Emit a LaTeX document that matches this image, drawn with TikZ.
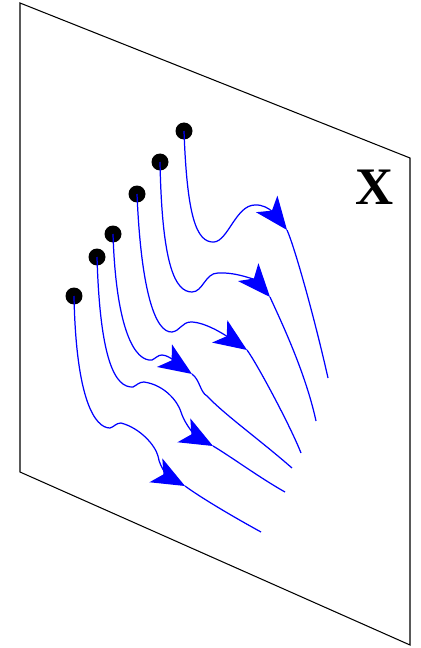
\documentclass[tikz,border=0pt]{standalone}
\usepackage{fontspec}
\usepackage{xcolor}
\usepackage{tikz}
\usetikzlibrary{arrows.meta, positioning}
\newfontfamily\labelfont{Liberation Serif}
\definecolor{flowblue}{RGB}{0,0,255}
\tikzstyle{startdot} = [circle, fill=black, draw=none, minimum size=0.34cm, inner sep=0pt]
\tikzstyle{flowline} = [draw=flowblue, line width=0.7pt]
\tikzstyle{flowarrow} = [flowline, -{Stealth[length=6.6mm, width=5.4mm, inset=1.7mm]}]
\tikzstyle{planeedge} = [draw=black, line width=0.6pt]

\begin{document}
\begin{tikzpicture}[x=0.02cm, y=0.02cm]
\useasboundingbox (0,0) rectangle (420,-648);

% ===== PLANE =====
\draw [planeedge] (20,-3) -- (410,-158) -- (410,-645) -- (20,-472) -- cycle;
\node (xlabel) [font=\labelfont\fontsize{30}{32}\selectfont\bfseries] at (375,-187) {X};

% ===== START POINTS =====
\node (d1) [startdot] at (184,-131) {};
\node (d2) [startdot] at (160,-162) {};
\node (d3) [startdot] at (137,-194) {};
\node (d4) [startdot] at (113,-234) {};
\node (d5) [startdot] at (97,-257) {};
\node (d6) [startdot] at (74,-296) {};

% arrow tips and free ends
\coordinate (t1) at (287,-230);  \coordinate (e1) at (328,-378);
\coordinate (t2) at (270,-297);  \coordinate (e2) at (316,-421);
\coordinate (t3) at (247,-350);  \coordinate (e3) at (301,-453);
\coordinate (t4) at (192,-374);  \coordinate (e4) at (292,-468);
\coordinate (t5) at (213,-446);  \coordinate (e5) at (285,-492);
\coordinate (t6) at (185,-486);  \coordinate (e6) at (261,-532);

% ===== FLOW LINES =====
% line 1
\draw [flowarrow] (d1.center) .. controls (187,-215) and (196,-243) .. (214,-242)
  .. controls (228,-241) and (236,-205) .. (255,-205)
  .. controls (270,-204) and (280,-221) .. (t1);
\draw [flowline] (t1) .. controls (295,-248) and (315,-320) .. (e1);

% line 2
\draw [flowarrow] (d2.center) .. controls (162,-265) and (175,-292) .. (192,-292)
  .. controls (203,-292) and (205,-273) .. (218,-273)
  .. controls (238,-272) and (256,-281) .. (t2);
\draw [flowline] (t2) .. controls (278,-315) and (305,-370) .. (e2);

% line 3
\draw [flowarrow] (d3.center) .. controls (141,-290) and (155,-333) .. (172,-332)
  .. controls (180,-331) and (182,-322) .. (191,-322)
  .. controls (205,-322) and (225,-335) .. (t3);
\draw [flowline] (t3) .. controls (256,-362) and (290,-425) .. (e3);

% line 4
\draw [flowarrow] (d4.center) .. controls (116,-330) and (135,-362) .. (152,-360)
  .. controls (156,-358) and (158,-355) .. (162,-355)
  .. controls (170,-355) and (183,-368) .. (t4);
\draw [flowline] (t4) .. controls (200,-380) and (200,-392) .. (207,-396)
  .. controls (225,-415) and (260,-440) .. (e4);

% line 5
\draw [flowarrow] (d5.center) .. controls (100,-360) and (115,-388) .. (133,-387)
  .. controls (137,-385) and (139,-382) .. (144,-382)
  .. controls (165,-385) and (178,-402) .. (181,-412)
  .. controls (186,-428) and (200,-439) .. (t5);
\draw [flowline] (t5) .. controls (230,-456) and (260,-478) .. (e5);

% line 6
\draw [flowarrow] (d6.center) .. controls (76,-400) and (95,-428) .. (110,-428)
  .. controls (114,-427) and (116,-423) .. (121,-423)
  .. controls (140,-428) and (155,-445) .. (158,-456)
  .. controls (160,-470) and (172,-479) .. (t6);
\draw [flowline] (t6) .. controls (200,-497) and (230,-515) .. (e6);

\end{tikzpicture}
\end{document}
